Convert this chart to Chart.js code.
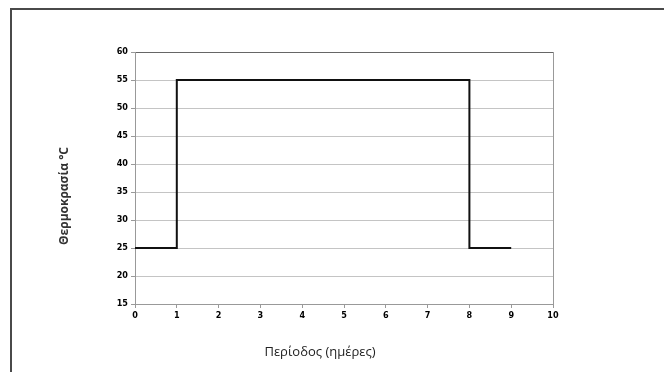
<!DOCTYPE html>
<html>
<head>
<meta charset="utf-8">
<script src="https://cdn.jsdelivr.net/npm/chart.js@4"></script>
<style>
  html, body { margin: 0; padding: 0; background: #fff; overflow: hidden; }
  #wrap { position: relative; width: 664px; height: 372px; }
  #frame {
    position: absolute; left: 10px; top: 8px; width: 700px; height: 420px;
    border-left: 2px solid #4a4a4a; border-top: 2px solid #4a4a4a;
  }
  canvas { position: absolute; left: 0; top: 0; }
</style>
</head>
<body>
<div id="wrap">
  <div id="frame"></div>
  <canvas id="tempChart" width="664" height="372"></canvas>
</div>
<script>
// step profile: temperature over days
var days = [0, 1, 1, 8, 8, 9];
var temps = [25, 25, 55, 55, 25, 25];
var xTicks = [0, 1, 2, 3, 4, 5, 6, 7, 8, 9, 10];
var yTicks = [15, 20, 25, 30, 35, 40, 45, 50, 55, 60];
var xTitle = "Περίοδος (ημέρες)";
var yTitle = "Θερμοκρασία °C";

var points = [];
for (var i = 0; i < days.length; i++) {
  points.push({ x: days[i], y: temps[i] });
}

var tickFont = { family: "'DejaVu Sans Condensed', 'DejaVu Sans'", size: 9, weight: "bold" };

// axis titles placed like the original
var titlePlugin = {
  id: "axisTitles",
  afterDraw: function (chart) {
    var ctx = chart.ctx;
    ctx.save();
    ctx.fillStyle = "#222";
    ctx.textAlign = "center";
    ctx.textBaseline = "middle";
    ctx.font = "13px 'Open Sans', 'DejaVu Sans'";
    ctx.fillText(xTitle, 320, 352);
    ctx.translate(65, 196);
    ctx.rotate(-Math.PI / 2);
    ctx.fillStyle = "#333";
    ctx.font = "bold 12px 'Open Sans', 'DejaVu Sans'";
    ctx.fillText(yTitle, 0, 0);
    ctx.restore();
  },
};

new Chart(document.getElementById("tempChart"), {
  type: "line",
  data: {
    datasets: [
      {
        data: points,
        borderColor: "#111",
        borderWidth: 2,
        pointRadius: 0,
        tension: 0,
        fill: false,
      },
    ],
  },
  options: {
    responsive: false,
    animation: false,
    layout: { padding: { top: 52, right: 111, left: 0, bottom: 0 } },
    plugins: { legend: { display: false }, tooltip: { enabled: false } },
    scales: {
      x: {
        type: "linear",
        min: xTicks[0],
        max: xTicks[xTicks.length - 1],
        afterBuildTicks: function (axis) {
          axis.ticks = xTicks.map(function (v) { return { value: v }; });
        },
        afterFit: function (axis) { axis.height = 68; },
        grid: {
          drawOnChartArea: true,
          color: function (c) { return c.tick && c.tick.value === 10 ? "#999" : "rgba(0,0,0,0)"; },
          tickColor: "#999",
          tickLength: 4,
        },
        border: { color: "#999", width: 1 },
        ticks: { color: "#000", font: tickFont, padding: 2, maxRotation: 0 },
      },
      y: {
        min: yTicks[0],
        max: yTicks[yTicks.length - 1],
        afterBuildTicks: function (axis) {
          axis.ticks = yTicks.map(function (v) { return { value: v }; });
        },
        afterFit: function (axis) { axis.width = 135; },
        grid: {
          color: function (c) { return c.tick && c.tick.value === 60 ? "#666" : "#c4c4c4"; },
          tickColor: "#999",
          tickLength: 4,
        },
        border: { color: "#999", width: 1 },
        ticks: { color: "#000", font: tickFont, padding: 3 },
      },
    },
  },
  plugins: [titlePlugin],
});
</script>
</body>
</html>
